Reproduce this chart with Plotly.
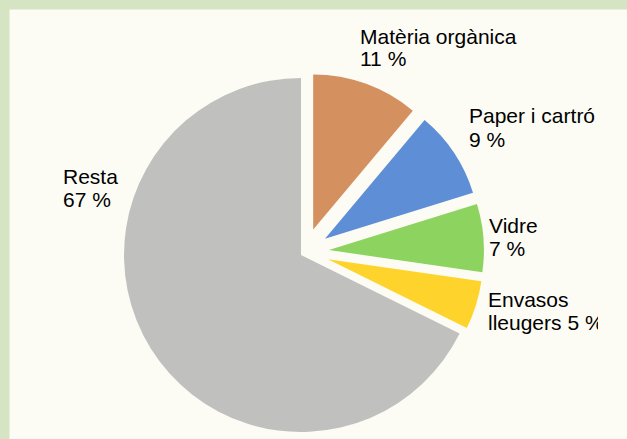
import plotly.graph_objects as go

# ---- data ----
labels = ["Matèria orgànica", "Paper i cartró", "Vidre", "Envasos lleugers", "Resta"]
values = [11, 9, 7, 5, 67]
colors = ["#d4905f", "#5e8ed6", "#8dd35f", "#fed42c", "#c0c0bf"]
first_lines = ["Matèria orgànica", "Paper i cartró", "Vidre", "Envasos", "Resta"]

# ---- layout constants ----
W, H = 627, 439
BORDER = "#d5e5c4"
PANEL = "#fcfcf5"
CLEAR = "rgba(0,0,0,0)"
FONT = dict(family="Liberation Sans, Arial, sans-serif", size=21, color="#000000")
# left edge / first-line centre of each label (pixels)
label_pos = [(359, 36), (468, 116), (488, 225), (487, 299), (62, 176)]
LINE_GAP = 23
CLIP_RIGHT = 597


def px_domain(cx, cy, r):
    return dict(x=[(cx - r) / W, (cx + r) / W],
                y=[1 - (cy + r) / H, 1 - (cy - r) / H])


is_rest = [lab == "Resta" for lab in labels]

fig = go.Figure()
# main (un-pulled) slice
fig.add_trace(go.Pie(
    labels=labels, values=values, sort=False, direction="clockwise", rotation=0,
    marker=dict(colors=[c if r else CLEAR for c, r in zip(colors, is_rest)],
                line=dict(width=0)),
    textinfo="none", hoverinfo="label+percent", showlegend=False,
    domain=px_domain(301, 255, 177),
))
# exploded slices
fig.add_trace(go.Pie(
    labels=labels, values=values, sort=False, direction="clockwise", rotation=0,
    marker=dict(colors=[CLEAR if r else c for c, r in zip(colors, is_rest)],
                line=dict(width=0)),
    pull=[0 if r else 0.155 for r in is_rest],
    textinfo="none", hoverinfo="label+percent", showlegend=False,
    domain=px_domain(305, 252, 179),
))

annotations = []
for lab, val, l1, (x, y) in zip(labels, values, first_lines, label_pos):
    rest = lab[len(l1):].strip()
    l2 = (rest + " " if rest else "") + f"{val} %"
    for i, txt in enumerate([l1, l2]):
        ann = dict(text=txt, x=x / W, y=1 - (y + i * LINE_GAP) / H,
                   xref="paper", yref="paper", xanchor="left", yanchor="middle",
                   align="left", showarrow=False, font=FONT, borderpad=0)
        if x > W / 2:
            est = len(txt) * 0.56 * FONT["size"]
            if x + est > CLIP_RIGHT:
                ann["width"] = CLIP_RIGHT - x
        annotations.append(ann)

fig.update_layout(
    width=W, height=H,
    margin=dict(l=0, r=0, t=0, b=0),
    paper_bgcolor=BORDER,
    plot_bgcolor=PANEL,
    shapes=[dict(type="rect", xref="paper", yref="paper", layer="below",
                 x0=9.5 / W, x1=1.0, y0=0.0, y1=1 - 9.5 / H,
                 fillcolor=PANEL, line=dict(width=0))],
    annotations=annotations,
)

fig.write_html(
    "out.html",
    config={"displayModeBar": False},
    post_script="document.body.style.margin='0';document.body.style.overflow='hidden';",
)
